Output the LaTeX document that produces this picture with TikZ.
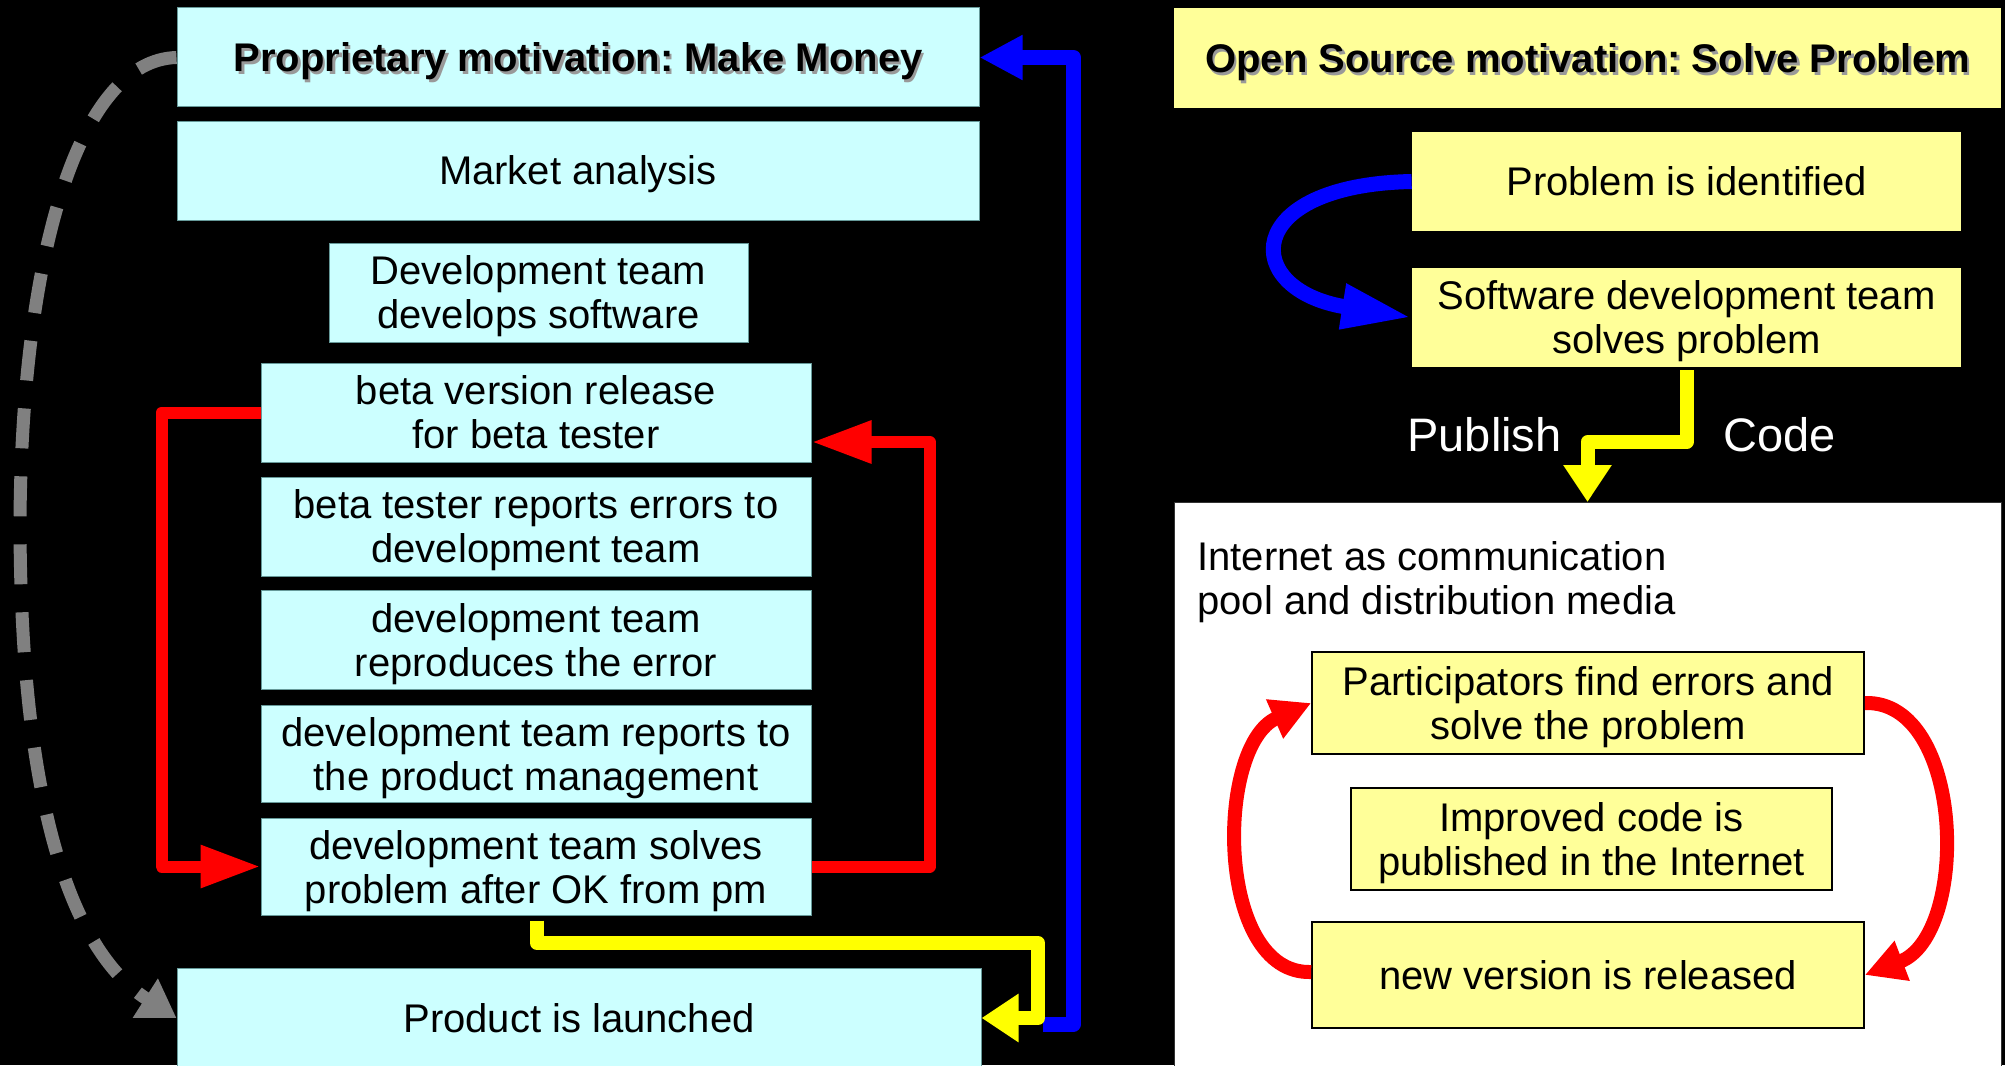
\documentclass[tikz,border=0pt]{standalone}
\usepackage{fontspec}
\setmainfont{Liberation Sans}
\usetikzlibrary{arrows.meta,calc}
\definecolor{cyanbox}{HTML}{CCFFFF}
\definecolor{cyanedge}{HTML}{669999}
\definecolor{ylwbox}{HTML}{FFFF99}
\definecolor{ylwline}{HTML}{FFFF00}
\definecolor{redline}{HTML}{FF0000}
\definecolor{blueline}{HTML}{0000FF}
\definecolor{grayline}{HTML}{808080}
\definecolor{shadowgray}{HTML}{999999}
\newcommand\shtext[1]{\makebox[0pt][l]{\hspace{1.3pt}\raisebox{-1.3pt}{\textcolor{shadowgray}{#1}}}#1}
\frenchspacing
\begin{document}
\begin{tikzpicture}[x=0.5pt,y=-0.5pt,
  txt/.style={font=\fontsize{20}{22}\selectfont, align=center, inner sep=0pt, text depth=0pt},
  cbox/.style={txt, fill=cyanbox, draw=cyanedge, line width=0.5pt},
  ybox/.style={txt, fill=ylwbox},
  ybbox/.style={txt, fill=ylwbox, draw=black, line width=0.8pt},
  bigtxt/.style={anchor=base west, text=white, inner sep=0pt, font=\fontsize{23.5}{25}\selectfont},
  redloop/.style={draw=redline, line width=6pt, line join=round, -{Triangle[length=30pt,width=20pt]}},
  redcurve/.style={draw=redline, line width=7pt, -{Triangle[length=20pt,width=20pt]}},
  bluestraight/.style={draw=blueline, line width=7.5pt, line join=round, -{Triangle[length=21.5pt,width=21pt]}},
  bluecurve/.style={draw=blueline, line width=7.5pt, -{Triangle[length=35pt,width=21pt]}},
  yellowline/.style={draw=ylwline, line width=7pt, line join=round, -{Triangle[length=18.5pt,width=23pt]}},
  grayarrow/.style={draw=grayline, line width=6.5pt, dash pattern=on 20pt off 14pt, -{Triangle[length=18.5pt,width=22pt]}}
]
\path[use as bounding box, fill=black] (0,0) rectangle (2005,1065);
\clip (0,0) rectangle (2005,1065);

% left column
\node[cbox, minimum width=401pt, minimum height=49.5pt] (prop) at (578,57.5) {\bfseries\shtext{Proprietary motivation: Make Money}};
\node[cbox, minimum width=401pt, minimum height=49.5pt] (market) at (578,170.5) {Market analysis};
\node[cbox, minimum width=209.5pt, minimum height=49.5pt] (devsw) at (538.5,292.5) {Development team\\develops software};
\node[cbox, minimum width=275pt, minimum height=49.5pt] (beta) at (536,412.5) {beta version release\\for beta tester};
\node[cbox, minimum width=275pt, minimum height=49.5pt] (reports) at (536,526.5) {beta tester reports errors to\\development team};
\node[cbox, minimum width=275pt, minimum height=49.5pt] (repro) at (536,640) {development team\\reproduces the error};
\node[cbox, minimum width=275pt, minimum height=48.5pt] (pm) at (536,753.5) {development team reports to\\the product management};
\node[cbox, minimum width=275pt, minimum height=48.5pt] (solves) at (536,866.5) {development team solves\\problem after OK from pm};
\node[cbox, minimum width=402pt, minimum height=50pt] (launch) at (579,1018) {Product is launched};

% right column
\node[ybox, minimum width=413.5pt, minimum height=50pt] (os) at (1587.5,58) {\bfseries\shtext{Open Source motivation: Solve Problem}};
\node[ybox, minimum width=274.5pt, minimum height=49.5pt] (ident) at (1686.5,181.5) {Problem is identified};
\node[ybox, minimum width=274.5pt, minimum height=49.5pt] (swdev) at (1686.5,317.5) {Software development team\\solves problem};
\node[bigtxt] (pub) at (1407,451) {Publish};
\node[bigtxt] (code) at (1723,451) {Code};
\node[fill=white, draw=black!80, line width=0.5pt, inner sep=0pt, anchor=north, minimum width=413.5pt, minimum height=284pt] (inet) at (1587.5,502) {};
\node[txt, align=left, anchor=west] (inettext) at (1197,578) {Internet as communication\\pool and distribution media};
\node[ybbox, minimum width=276pt, minimum height=51pt] (part) at (1588,703) {Participators find errors and\\solve the problem};
\node[ybbox, minimum width=240.5pt, minimum height=51pt] (impr) at (1591.5,839) {Improved code is\\published in the Internet};
\node[ybbox, minimum width=276pt, minimum height=53pt] (newv) at (1588,975) {new version is released};

% connectors left
\draw[grayarrow] (prop.west) .. controls (80,60) and (22,250) .. (20,520)
  .. controls (20,800) and (70,950) .. (launch.west);
\draw[redloop] (beta.west) -- ++(-99,0) |- (solves.west);
\draw[redloop] (solves.east) -- ++(118,0) |- ($(beta.east)+(0,29.5)$);
\draw[bluestraight] ($(launch.east)+(61,6)$) -| ($(prop.east)+(94,0)$) -- (prop.east);
\coordinate (ybend) at (1038,943);
\draw[yellowline] ($(solves.south)+(1,5)$) |- (ybend) |- (launch.east);

% connectors right
\draw[bluecurve] (ident.west) .. controls (1240,185) and (1240,290) .. (swdev.west);
\draw[yellowline] ($(swdev.south)+(0,3)$) |- ($(inet.north)+(0,-60)$) -- (inet.north);
\draw[redcurve] (part.east) .. controls (1965,700) and (1970,935) .. (newv.east);
\draw[redcurve] ($(newv.west)+(0,-3)$) .. controls (1215,975) and (1215,745) .. (part.west);
\end{tikzpicture}
\end{document}
